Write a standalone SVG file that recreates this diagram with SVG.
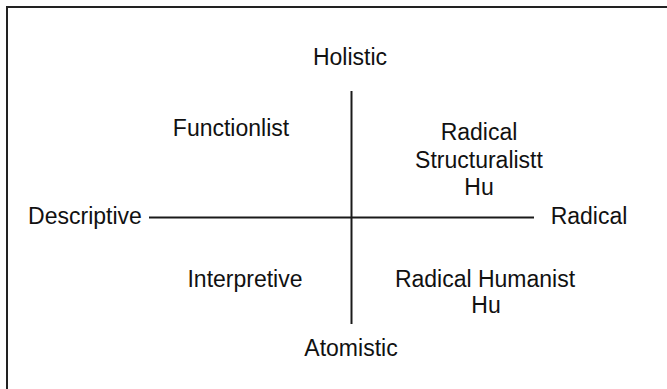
<svg xmlns="http://www.w3.org/2000/svg" width="667" height="389" viewBox="0 0 667 389">
<style>
.t{font-family:"Liberation Sans",Arial,sans-serif;font-size:23px;fill:#111;text-anchor:middle}
.ax{stroke:#1a1a1a;stroke-width:2;fill:none}
</style>
<rect x="0" y="0" width="667" height="389" fill="#fff"/>
<rect x="7" y="7" width="700" height="420" fill="none" stroke="#222" stroke-width="2"/>
<g id="connectors">
<line class="ax" x1="351.5" y1="91" x2="351.5" y2="324"/>
<line class="ax" x1="149" y1="217.5" x2="534" y2="217.5"/>
</g>
<g id="holistic"><text class="t" x="350" y="65">Holistic</text></g>
<g id="atomistic"><text class="t" x="351" y="356">Atomistic</text></g>
<g id="descriptive"><text class="t" x="85" y="224">Descriptive</text></g>
<g id="radical"><text class="t" x="589" y="224">Radical</text></g>
<g id="functionlist"><text class="t" x="231" y="136">Functionlist</text></g>
<g id="radical-structuralist"><text class="t" x="479" y="140">Radical</text><text class="t" x="479" y="168">Structuralistt</text><text class="t" x="479" y="195">Hu</text></g>
<g id="interpretive"><text class="t" x="245" y="287">Interpretive</text></g>
<g id="radical-humanist"><text class="t" x="485" y="287">Radical Humanist</text><text class="t" x="486" y="313">Hu</text></g>
</svg>
